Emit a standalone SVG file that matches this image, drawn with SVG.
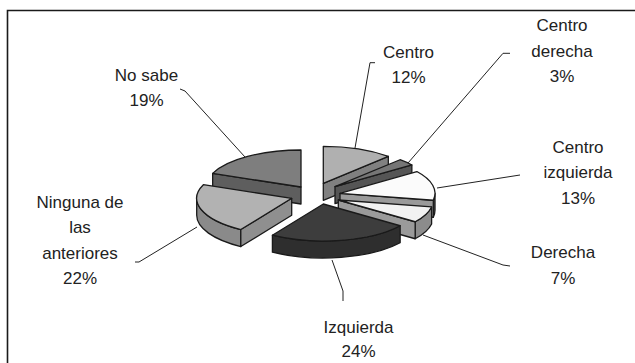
<svg xmlns="http://www.w3.org/2000/svg" width="635" height="363" viewBox="0 0 635 363">
<style>
.lbl{font-family:"Liberation Sans",Arial,sans-serif;font-size:17px;fill:#222;text-anchor:middle}
.f{stroke:#1a1a1a;stroke-width:1.3;stroke-linejoin:round}
.ld{fill:none;stroke:#222;stroke-width:1}
</style>
<rect width="635" height="363" fill="#fff"/>
<path d="M7.5,363 V10.5 H635" fill="none" stroke="#1a1a1a" stroke-width="1.6"/>
<g id="slice-centro">
<path class="f" fill="#808080" d="M323.3,183.3 L388.33,156.33 L388.33,173.33 L323.3,200.3 Z"/>
<path class="f" fill="#b0b0b0" d="M323.3,183.3 L323.3,146.3 A95,37 0 0 1 388.33,156.33 Z"/>
</g>
<g id="slice-no-sabe">
<path class="f" fill="#5e5e5e" d="M301,187 L212.67,173.38 L212.67,190.38 L301,204 Z"/>
<path class="f" fill="#7e7e7e" d="M301,187 L212.67,173.38 A95,37 0 0 1 301,150 Z"/>
</g>
<g id="slice-centro-derecha">
<path class="f" fill="#555" d="M335,186.7 L411.86,164.95 L411.86,181.95 L335,203.7 Z"/>
<path class="f" fill="#767676" d="M335,186.7 L400.03,159.73 A95,37 0 0 1 411.86,164.95 Z"/>
</g>
<g id="slice-centro-izquierda">
<path class="f" fill="#555" d="M435,193.3 A95,37 0 0 1 433.32,200.23 L433.32,217.23 A95,37 0 0 0 435,210.3 Z"/>
<path class="f" fill="#9a9a9a" d="M340,193.3 L433.32,200.23 L433.32,217.23 L340,210.3 Z"/>
<path class="f" fill="#fbfbfb" d="M340,193.3 L416.86,171.55 A95,37 0 0 1 433.32,200.23 Z"/>
</g>
<g id="slice-ninguna">
<path class="f" fill="#8a8a8a" d="M240.8,229.54 A95,37 0 0 1 196.7,198.3 L196.7,215.3 A95,37 0 0 0 240.8,246.54 Z"/>
<path class="f" fill="#8f8f8f" d="M291.7,198.3 L240.8,229.54 L240.8,246.54 L291.7,215.3 Z"/>
<path class="f" fill="#b2b2b2" d="M291.7,198.3 L240.8,229.54 A95,37 0 0 1 203.37,184.68 Z"/>
</g>
<g id="slice-derecha">
<path class="f" fill="#8c8c8c" d="M431.62,206.93 A95,37 0 0 1 415.16,221.75 L415.16,238.75 A95,37 0 0 0 431.62,223.93 Z"/>
<path class="f" fill="#9a9a9a" d="M338.3,200 L415.16,221.75 L415.16,238.75 L338.3,217 Z"/>
<path class="f" fill="#f2f2f2" d="M338.3,200 L431.62,206.93 A95,37 0 0 1 415.16,221.75 Z"/>
</g>
<g id="slice-izquierda">
<path class="f" fill="#2e2e2e" d="M400.16,225.75 A95,37 0 0 1 272.4,235.24 L272.4,252.24 A95,37 0 0 0 400.16,242.75 Z"/>
<path class="f" fill="#3d3d3d" d="M323.3,204 L400.16,225.75 A95,37 0 0 1 272.4,235.24 Z"/>
</g>
<g id="connectors">
<polyline class="ld" points="375,62.7 370,62.7 355,148"/>
<polyline class="ld" points="510,53.3 503,53.3 408,163"/>
<polyline class="ld" points="520,175 437,188"/>
<polyline class="ld" points="423,235 503,265 510,266"/>
<polyline class="ld" points="332,260 343,291 343,301"/>
<polyline class="ld" points="135,262 139,262 197,227"/>
<polyline class="ld" points="180,89 185,91 245,157"/>
</g>
<g id="labels">
<text class="lbl" x="408.5" y="58">Centro</text>
<text class="lbl" x="408.5" y="83">12%</text>
<text class="lbl" x="562" y="31">Centro</text>
<text class="lbl" x="562" y="57">derecha</text>
<text class="lbl" x="562" y="82">3%</text>
<text class="lbl" x="578" y="153">Centro</text>
<text class="lbl" x="578" y="178">izquierda</text>
<text class="lbl" x="578" y="204">13%</text>
<text class="lbl" x="563" y="258">Derecha</text>
<text class="lbl" x="563" y="284">7%</text>
<text class="lbl" x="358.5" y="333">Izquierda</text>
<text class="lbl" x="358.5" y="357">24%</text>
<text class="lbl" x="80" y="208">Ninguna de</text>
<text class="lbl" x="80" y="233">las</text>
<text class="lbl" x="80" y="259">anteriores</text>
<text class="lbl" x="80" y="284">22%</text>
<text class="lbl" x="146.5" y="81">No sabe</text>
<text class="lbl" x="146.5" y="106">19%</text>
</g>
</svg>
